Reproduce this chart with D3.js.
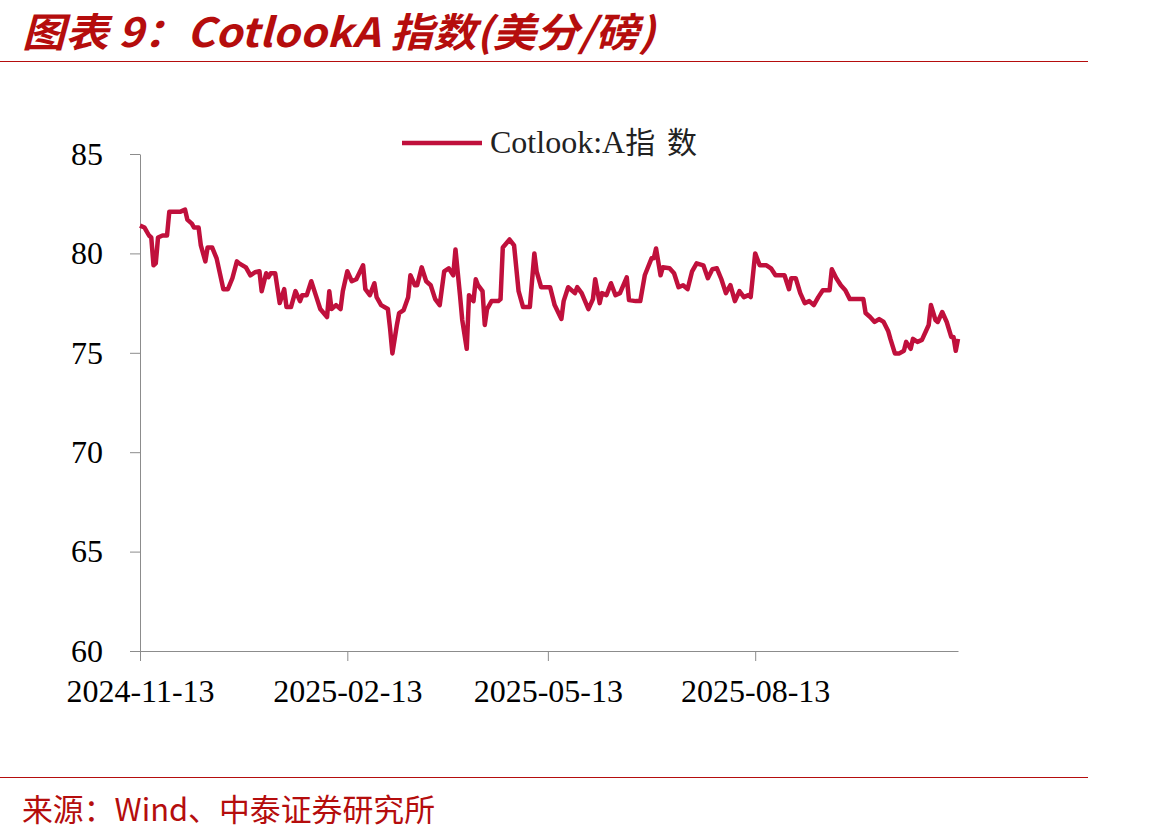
<!DOCTYPE html>
<html><head><meta charset="utf-8">
<script src="https://cdn.jsdelivr.net/npm/d3@7"></script>
<style>body{margin:0;background:#fff}svg{display:block}</style>
</head><body>
<svg id="c" width="1156" height="840"></svg>
<script>
const dates = ["2024-11-13","2024-11-15","2024-11-17","2024-11-18","2024-11-19","2024-11-20","2024-11-21","2024-11-23","2024-11-25","2024-11-26","2024-11-29","2024-12-01","2024-12-03","2024-12-04","2024-12-06","2024-12-07","2024-12-09","2024-12-10","2024-12-12","2024-12-13","2024-12-15","2024-12-17","2024-12-20","2024-12-22","2024-12-24","2024-12-26","2024-12-27","2024-12-30","2025-01-01","2025-01-03","2025-01-05","2025-01-06","2025-01-08","2025-01-09","2025-01-10","2025-01-12","2025-01-14","2025-01-16","2025-01-17","2025-01-19","2025-01-21","2025-01-23","2025-01-24","2025-01-26","2025-01-28","2025-01-30","2025-02-01","2025-02-04","2025-02-05","2025-02-06","2025-02-08","2025-02-10","2025-02-11","2025-02-13","2025-02-15","2025-02-17","2025-02-20","2025-02-21","2025-02-23","2025-02-25","2025-02-26","2025-02-28","2025-03-03","2025-03-04","2025-03-05","2025-03-07","2025-03-08","2025-03-10","2025-03-12","2025-03-13","2025-03-15","2025-03-16","2025-03-18","2025-03-20","2025-03-22","2025-03-24","2025-03-26","2025-03-28","2025-03-30","2025-04-01","2025-04-02","2025-04-04","2025-04-05","2025-04-07","2025-04-08","2025-04-10","2025-04-11","2025-04-12","2025-04-14","2025-04-15","2025-04-16","2025-04-18","2025-04-21","2025-04-22","2025-04-23","2025-04-26","2025-04-28","2025-04-30","2025-05-02","2025-05-05","2025-05-07","2025-05-08","2025-05-10","2025-05-13","2025-05-14","2025-05-16","2025-05-19","2025-05-20","2025-05-22","2025-05-25","2025-05-26","2025-05-28","2025-05-31","2025-06-02","2025-06-03","2025-06-05","2025-06-06","2025-06-08","2025-06-10","2025-06-12","2025-06-14","2025-06-17","2025-06-18","2025-06-21","2025-06-23","2025-06-25","2025-06-28","2025-06-29","2025-06-30","2025-07-02","2025-07-03","2025-07-06","2025-07-08","2025-07-10","2025-07-12","2025-07-14","2025-07-16","2025-07-18","2025-07-21","2025-07-23","2025-07-25","2025-07-27","2025-07-29","2025-07-31","2025-08-02","2025-08-04","2025-08-06","2025-08-08","2025-08-10","2025-08-11","2025-08-13","2025-08-15","2025-08-18","2025-08-20","2025-08-22","2025-08-26","2025-08-28","2025-08-29","2025-08-31","2025-09-02","2025-09-04","2025-09-06","2025-09-08","2025-09-10","2025-09-12","2025-09-15","2025-09-16","2025-09-18","2025-09-20","2025-09-22","2025-09-24","2025-09-27","2025-09-30","2025-10-01","2025-10-03","2025-10-05","2025-10-07","2025-10-09","2025-10-11","2025-10-12","2025-10-14","2025-10-16","2025-10-18","2025-10-19","2025-10-21","2025-10-22","2025-10-24","2025-10-26","2025-10-29","2025-10-30","2025-11-01","2025-11-02","2025-11-04","2025-11-06","2025-11-08","2025-11-09","2025-11-10","2025-11-11"];
const values = [81.4,81.3,80.9,80.8,79.4,79.5,80.8,80.9,80.9,82.1,82.1,82.1,82.2,81.7,81.5,81.3,81.3,80.4,79.6,80.3,80.3,79.75,78.2,78.2,78.75,79.6,79.5,79.3,78.9,79.05,79.1,78.1,79.0,78.8,79.0,79.0,77.5,78.2,77.3,77.3,78.1,77.6,77.9,77.9,78.6,77.9,77.2,76.8,78.1,77.2,77.4,77.2,78.1,79.1,78.6,78.7,79.4,78.2,77.9,78.5,77.8,77.4,77.2,76.2,74.97,76.4,77.0,77.15,77.8,78.9,78.4,78.4,79.3,78.6,78.4,77.7,77.4,79.1,79.25,78.9,80.2,77.9,76.65,75.2,77.9,77.6,78.7,78.4,78.1,76.4,77.2,77.6,77.6,77.7,80.3,80.7,80.4,78.1,77.3,77.3,80.0,79.1,78.3,78.3,78.3,77.4,76.7,77.6,78.3,78.0,78.3,78.0,77.2,77.7,78.7,77.5,78.0,77.9,78.5,77.9,78.0,78.8,77.65,77.6,77.6,78.9,79.75,79.75,80.25,78.9,79.3,79.25,79.0,78.3,78.4,78.2,79.1,79.5,79.4,78.75,79.2,79.25,78.7,78.0,78.4,77.6,78.1,77.8,77.9,77.8,80.0,79.4,79.4,79.25,78.9,78.9,78.2,78.75,78.75,78.0,77.5,77.6,77.4,77.8,78.15,78.15,79.2,78.75,78.4,78.15,77.7,77.7,77.7,77.0,76.8,76.55,76.7,76.55,76.1,75.7,74.97,74.97,75.1,75.55,75.2,75.7,75.55,75.65,76.4,77.4,76.65,76.55,77.05,76.55,75.8,75.8,75.1,75.7];
const yTicks = [60,65,70,75,80,85];
const xTickLabels = ["2024-11-13","2025-02-13","2025-05-13","2025-08-13"];
const xDomain = ["2024-11-13","2025-11-11"];
const seriesLatin = "Cotlook:A";
const seriesCJK = "指数";
const titleText = "图表 9：CotlookA 指数(美分/磅)";
const sourceText = "来源：Wind、中泰证券研究所";

const parse = d3.utcParse("%Y-%m-%d");
const data = dates.map((d,i)=>({date:parse(d), value:values[i]}));
const svg = d3.select("#c");
const red = "#b50d0d";
const lineColor = "#c0103c";
const axisColor = "#8c8c8c";

const x = d3.scaleUtc().domain(xDomain.map(parse)).range([140, 958]);
const y = d3.scaleLinear().domain([60,85]).range([651, 154]);

// title
svg.append("text").attr("x",22).attr("y",47)
  .attr("font-family","'Noto Sans CJK SC', 'Liberation Sans', sans-serif")
  .attr("font-size",40).attr("font-style","italic").attr("font-weight","bold")
  .attr("fill",red).attr("textLength",633).attr("lengthAdjust","spacingAndGlyphs").text(titleText);
svg.append("line").attr("x1",0).attr("x2",1088).attr("y1",61.5).attr("y2",61.5)
  .attr("stroke",red).attr("stroke-width",1.2);
svg.append("line").attr("x1",0).attr("x2",1088).attr("y1",777.5).attr("y2",777.5)
  .attr("stroke",red).attr("stroke-width",1.2);
svg.append("text").attr("x",22).attr("y",821)
  .attr("font-family","'Noto Sans CJK SC', sans-serif")
  .attr("font-size",31).attr("fill",red)
  .attr("textLength",413).attr("lengthAdjust","spacingAndGlyphs").text(sourceText);

// axes
const yAxis = d3.axisLeft(y).tickValues(yTicks).tickSize(10).tickPadding(27).tickSizeOuter(0);
const gy = svg.append("g").attr("transform","translate(140,0)").call(yAxis);
gy.selectAll("text").attr("font-family","'Liberation Serif', serif").attr("font-size",32).attr("fill","#000");
gy.selectAll("line").attr("stroke",axisColor);
gy.select(".domain").attr("stroke",axisColor);

const xAxis = d3.axisBottom(x).tickValues(xTickLabels.map(parse)).tickFormat(d3.utcFormat("%Y-%m-%d"))
  .tickSize(10).tickPadding(18).tickSizeOuter(0);
const gx = svg.append("g").attr("transform","translate(0,651)").call(xAxis);
gx.selectAll("text").attr("font-family","'Liberation Serif', serif").attr("font-size",32).attr("fill","#000");
gx.selectAll("line").attr("stroke",axisColor);
gx.select(".domain").attr("stroke",axisColor);

// line
const line = d3.line().x(d=>x(d.date)).y(d=>y(d.value));
svg.append("path").datum(data).attr("d",line).attr("fill","none")
  .attr("stroke",lineColor).attr("stroke-width",4.5).attr("stroke-linejoin","round");

// legend
svg.append("line").attr("x1",402).attr("x2",482).attr("y1",143).attr("y2",143)
  .attr("stroke",lineColor).attr("stroke-width",4.5);
const lt = svg.append("text").attr("x",490).attr("y",153)
  .attr("font-family","'Liberation Serif', serif")
  .attr("font-size",32).attr("fill","#222");
lt.append("tspan").text(seriesLatin);
lt.append("tspan").attr("font-family","'Noto Sans CJK SC', sans-serif").attr("font-size",30)
  .attr("letter-spacing",12).text(seriesCJK);
</script>
</body></html>
